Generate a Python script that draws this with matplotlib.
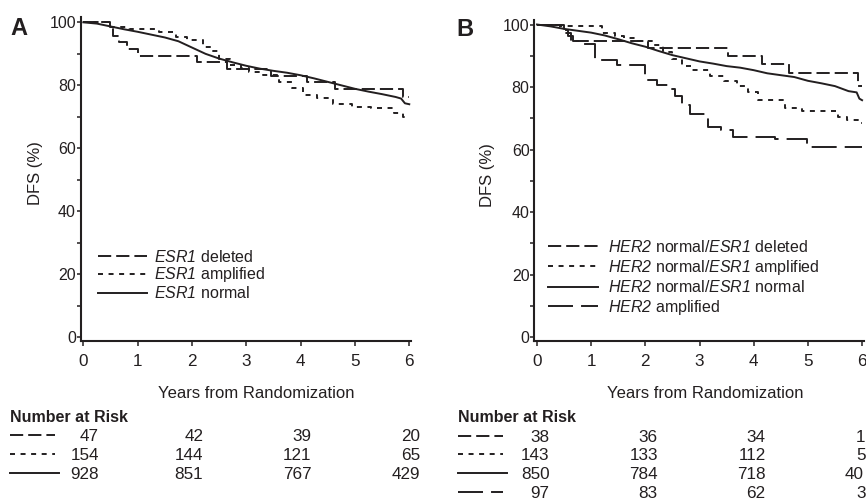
import matplotlib
matplotlib.use('Agg')
import matplotlib.pyplot as plt
from matplotlib.lines import Line2D
import matplotlib.transforms as mtransforms

plt.rcParams['font.family'] = ['Liberation Sans', 'DejaVu Sans']
plt.rcParams['mathtext.fontset'] = 'custom'
plt.rcParams['mathtext.rm'] = 'Liberation Sans'
plt.rcParams['mathtext.it'] = 'Liberation Sans:italic'
plt.rcParams['mathtext.sf'] = 'Liberation Sans:italic'
plt.rcParams['mathtext.bf'] = 'Liberation Sans:bold'
plt.rcParams['lines.scale_dashes'] = False

INK = '#231f20'

# ---------------- data: panel A ----------------
a_del_t = [0, 0.50, 0.55, 0.65, 0.80, 1.00, 2.10, 2.65, 3.45, 4.12, 4.63, 5.88, 6.00]
a_del_s = [100, 97.9, 95.8, 93.7, 91.6, 89.4, 87.3, 85.2, 83.0, 81.0, 78.9, 76.4, 76.4]

a_amp_t = [0, 0.50, 0.85, 1.40, 1.70, 1.90, 2.20, 2.38, 2.50, 2.70, 2.90, 3.05, 3.30, 3.60,
           3.85, 4.05, 4.30, 4.60, 4.95, 5.30, 5.72, 5.88, 6.00]
a_amp_s = [100, 98.6, 97.9, 96.8, 95.5, 94.3, 92.3, 90.8, 88.5, 86.5, 85.4, 84.3, 83.3, 81.2,
           79.1, 77.0, 75.9, 74.0, 73.2, 72.7, 71.1, 70.0, 70.0]

a_nor_t = [0, 0.25, 0.50, 0.75, 1.00, 1.25, 1.50, 1.75, 2.00, 2.25, 2.50, 2.75, 3.00, 3.25,
           3.50, 3.75, 4.00, 4.25, 4.50, 4.75, 5.00, 5.25, 5.50, 5.75, 5.85, 5.92, 6.00]
a_nor_s = [100, 99.6, 98.7, 97.8, 97.0, 96.1, 95.2, 94.0, 92.0, 90.0, 88.5, 87.3, 86.2, 85.3,
           84.6, 84.0, 83.2, 82.2, 81.1, 80.0, 78.9, 78.0, 77.2, 76.3, 75.8, 74.3, 74.0]

a_labels = [r'$\mathsf{ESR1}$ deleted', r'$\mathsf{ESR1}$ amplified', r'$\mathsf{ESR1}$ normal']
a_risk = [["47", "42", "39", "20"],
          ["154", "144", "121", "65"],
          ["928", "851", "767", "429"]]

# ---------------- data: panel B ----------------
b_del_t = [0, 0.50, 0.62, 2.05, 3.53, 4.15, 4.65, 5.92, 6.00]
b_del_s = [100, 97.4, 94.8, 92.4, 89.9, 87.3, 84.4, 80.3, 80.3]

b_amp_t = [0, 0.45, 1.20, 1.44, 1.60, 1.87, 2.15, 2.33, 2.50, 2.67, 2.85, 3.20, 3.45, 3.70,
           3.90, 4.08, 4.58, 4.90, 5.56, 5.72, 5.92, 6.00]
b_amp_s = [100, 99.4, 97.3, 96.3, 95.7, 94.7, 93.5, 91.3, 89.0, 86.6, 85.3, 83.4, 81.8, 80.3,
           78.5, 75.9, 73.2, 72.3, 70.5, 69.5, 68.6, 68.6]

b_nor_t = [0, 0.25, 0.50, 0.75, 1.00, 1.25, 1.50, 1.75, 2.00, 2.25, 2.50, 2.75, 3.00, 3.25,
           3.50, 3.75, 4.00, 4.25, 4.50, 4.75, 5.00, 5.25, 5.50, 5.75, 5.90, 5.95, 6.00]
b_nor_s = [100, 99.4, 98.6, 98.0, 97.4, 96.5, 95.3, 94.0, 92.9, 91.5, 90.2, 89.2, 88.2, 87.5,
           86.7, 86.2, 85.4, 84.4, 83.8, 83.2, 82.0, 81.2, 80.3, 78.7, 78.3, 76.3, 75.8]

b_her_t = [0, 0.42, 0.57, 0.66, 0.80, 1.07, 1.47, 1.99, 2.21, 2.42, 2.55, 2.67, 2.82, 3.16,
           3.40, 3.62, 4.40, 4.98, 6.00]
b_her_s = [100, 98.3, 96.2, 94.6, 93.8, 88.7, 87.1, 82.4, 80.8, 79.5, 77.0, 74.4, 71.4, 67.1,
           66.3, 64.1, 63.3, 60.9, 60.9]

b_labels = [r'$\mathsf{HER2}$ normal/$\mathsf{ESR1}$ deleted',
            r'$\mathsf{HER2}$ normal/$\mathsf{ESR1}$ amplified',
            r'$\mathsf{HER2}$ normal/$\mathsf{ESR1}$ normal',
            r'$\mathsf{HER2}$ amplified']
b_risk = [["38", "36", "34"],
          ["143", "133", "112"],
          ["850", "784", "718"],
          ["97", "83", "62"]]
b_risk_cut = ["1", "5", "40", "3"]   # last column, cut off by the image edge in the original

yticks = [0, 20, 40, 60, 80, 100]
yminor = [10, 30, 50, 70, 90]
xticks = [0, 1, 2, 3, 4, 5, 6]
risk_years = [0, 2, 4, 6]

# ---------------- styles ----------------
ST_DEL = dict(linestyle=(0, (9.5, 3.6)))
ST_AMP = dict(linestyle=(0, (3.6, 4.0)))
ST_NOR = dict(linestyle='-')
ST_HER = dict(linestyle=(0, (18, 5.8)))
LW = 1.4

W, H = 866, 500
fig = plt.figure(figsize=(W / 100, H / 100), dpi=100)


def px_axes(left, top, right, bottom):
    return fig.add_axes([left / W, 1 - bottom / H, (right - left) / W, (bottom - top) / H])


def style_axes(ax):
    ax.set_xlim(-0.05, 6.03)
    ax.set_ylim(-1.2, 101.6)
    for s in ('top', 'right'):
        ax.spines[s].set_visible(False)
    for s in ('left', 'bottom'):
        ax.spines[s].set_linewidth(1.5)
        ax.spines[s].set_color(INK)
    ax.set_yticks(yticks)
    ax.set_yticks(yminor, minor=True)
    ax.set_xticks(xticks)
    ax.set_xticklabels([str(v) for v in xticks])
    ax.tick_params(axis='y', which='both', direction='out', length=2.6, width=1.1,
                   pad=0.8, labelsize=11.5, colors=INK)
    ax.tick_params(axis='x', which='major', direction='out', length=3.5, width=1.1,
                   pad=6.0, labelsize=12.3, colors=INK)
    ax.set_ylabel('DFS (%)', fontsize=12, color=INK)
    ax.set_xlabel('Years from Randomization', fontsize=12, color=INK)
    ax.xaxis.label.set_va('baseline')


def ypx(y):
    return 1 - y / H


def draw_curve(ax, t, s, st, lab):
    # many tiny steps in the large "normal" groups read as a continuous line
    ds = 'default' if st is ST_NOR else 'steps-post'
    ax.plot(t, s, drawstyle=ds, color=INK, lw=LW, label=lab, **st)


# ---------------- panel A ----------------
axA = px_axes(80.6, 17.3, 410.9, 341.1)
style_axes(axA)
for t, s, st, lab in zip([a_del_t, a_amp_t, a_nor_t], [a_del_s, a_amp_s, a_nor_s],
                         [ST_DEL, ST_AMP, ST_NOR], a_labels):
    draw_curve(axA, t, s, st, lab)
axA.yaxis.set_label_coords(-0.113, 0.519)
axA.xaxis.set_label_coords(0.5315, -0.1767)
axA.legend(loc='upper left', bbox_to_anchor=(0.053, 0.285), frameon=False, fontsize=11.5,
           handlelength=3.07, handletextpad=0.44, labelspacing=0.04, borderpad=0,
           borderaxespad=0, labelcolor=INK)

# ---------------- panel B ----------------
axB = px_axes(534.3, 19.5, 863.7, 341.05)
style_axes(axB)
for t, s, st, lab in zip([b_del_t, b_amp_t, b_nor_t, b_her_t],
                         [b_del_s, b_amp_s, b_nor_s, b_her_s],
                         [ST_DEL, ST_AMP, ST_NOR, ST_HER], b_labels):
    draw_curve(axB, t, s, st, lab)
axB.yaxis.set_label_coords(-0.119, 0.516)
axB.xaxis.set_label_coords(0.52, -0.178)
axB.legend(loc='upper left', bbox_to_anchor=(0.0416, 0.318), frameon=False, fontsize=11.5,
           handlelength=3.13, handletextpad=0.63, labelspacing=0.17, borderpad=0,
           borderaxespad=0, labelcolor=INK)

# ---------------- panel letters ----------------
fig.text(10 / W, ypx(35), 'A', fontsize=17, fontweight='bold', color=INK, va='baseline')
fig.text(456 / W, ypx(36), 'B', fontsize=17, fontweight='bold', color=INK, va='baseline')


# ---------------- number at risk tables ----------------
def risk_table(ax, x0px, x1px, rows_y, styles, table, offsets):
    fig.text(x0px / W, ypx(422.4), 'Number at Risk', fontsize=11.5, fontweight='bold',
             color=INK, va='baseline')
    tr = mtransforms.blended_transform_factory(ax.transData, fig.transFigure)
    for yc, st, row in zip(rows_y, styles, table):
        x1 = x1px + (4 if st is ST_NOR else 0)
        fig.add_artist(Line2D([x0px / W, x1 / W], [ypx(yc), ypx(yc)], color=INK, lw=LW,
                              transform=fig.transFigure, **st))
        for yr, off, txt in zip(risk_years, offsets, row):
            ax.text(yr + off, ypx(yc + 6.1), txt, transform=tr, ha='right', va='baseline',
                    fontsize=12.3, color=INK, clip_on=False)


risk_table(axA, 10, 55, [435.3, 453.7, 472.7], [ST_DEL, ST_AMP, ST_NOR], a_risk,
           [0.289, 0.208, 0.20, 0.20])
risk_table(axB, 458, 503, [435.7, 454.0, 472.7, 491.7], [ST_DEL, ST_AMP, ST_NOR, ST_HER],
           b_risk, [0.234, 0.23, 0.22])
cut_x = [856.0, 856.0, 845.0, 856.0]
for yc, xp, txt in zip([435.7, 454.0, 472.7, 491.7], cut_x, b_risk_cut):
    fig.text(xp / W, ypx(yc + 6.1), txt, fontsize=12.3, color=INK, va='baseline', ha='left')

fig.savefig('out.png', dpi=100)
